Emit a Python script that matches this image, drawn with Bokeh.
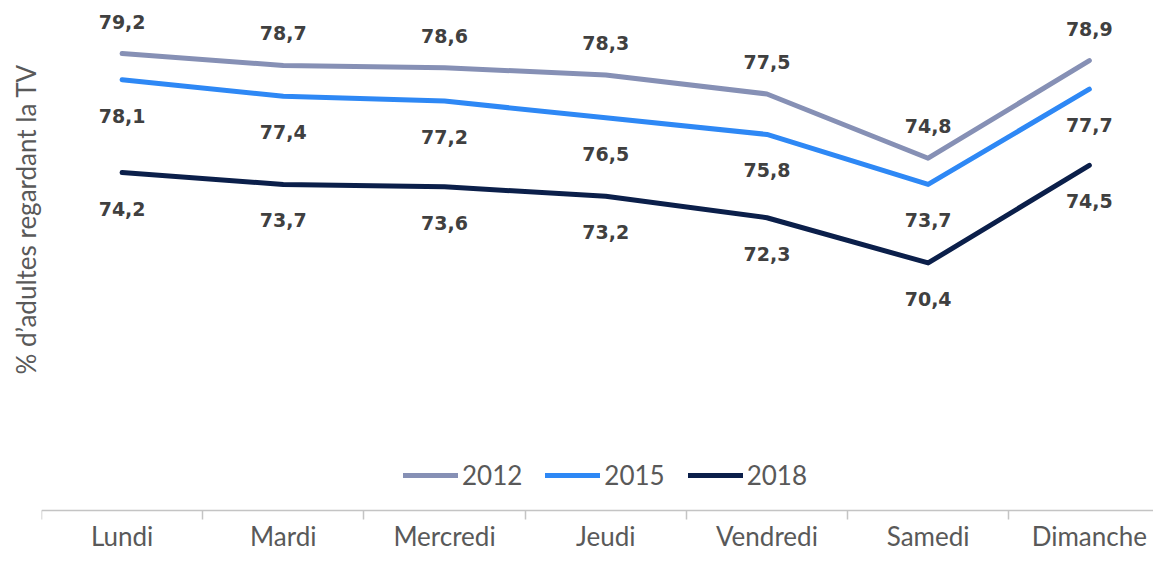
from bokeh.plotting import figure
from bokeh.models import (Range1d, LinearAxis, FixedTicker, Legend, LegendItem, Title)
from bokeh.core.properties import value
from bokeh.embed import file_html
from bokeh.resources import INLINE

days = ["Lundi", "Mardi", "Mercredi", "Jeudi", "Vendredi", "Samedi", "Dimanche"]
series_names = ["2012", "2015", "2018"]
v2012 = [79.2, 78.7, 78.6, 78.3, 77.5, 74.8, 78.9]
v2015 = [78.1, 77.4, 77.2, 76.5, 75.8, 73.7, 77.7]
v2018 = [74.2, 73.7, 73.6, 73.2, 72.3, 70.4, 74.5]
y_min = 60
y_title = "% d\u2019adultes regardant la TV"

colors = ["#8690B5", "#2E88F5", "#0B1F4A"]
label_offsets = [-32, 36, 36]

xc = [i + 0.5 for i in range(len(days))]
bounds = list(range(len(days) + 1))

p = figure(width=1153, height=551,
           x_range=Range1d(0, 6.898), y_range=Range1d(58.277, 81.427),
           output_backend="svg", toolbar_location=None, title=None,
           min_border_left=41, min_border_right=0, min_border_top=0,
           min_border_bottom=0, x_axis_type=None, y_axis_type=None)
p.outline_line_color = None
p.background_fill_color = "white"
p.border_fill_color = "white"
p.grid.visible = False

xaxis = LinearAxis(ticker=FixedTicker(ticks=xc, minor_ticks=bounds), fixed_location=y_min)
xaxis.major_label_overrides = {x: d for x, d in zip(xc, days)}
xaxis.axis_line_color = "#C4C4C4"
xaxis.axis_line_width = 1.5
xaxis.major_tick_line_color = None
xaxis.major_tick_in = 0
xaxis.major_tick_out = 9
xaxis.minor_tick_line_color = "#C4C4C4"
xaxis.minor_tick_line_width = 1.5
xaxis.minor_tick_in = 0
xaxis.minor_tick_out = 9
xaxis.major_label_standoff = 1
xaxis.major_label_text_font = "Lato"
xaxis.major_label_text_font_size = "26px"
xaxis.major_label_text_color = "#595959"
p.add_layout(xaxis, "below")

t = Title(text=y_title, align="left", offset=177, standoff=0,
          text_font="Lato", text_font_size="26px", text_font_style="normal",
          text_color="#595959")
p.add_layout(t, "left")

items = []
for name, vals, col, off in zip(series_names, [v2012, v2015, v2018], colors, label_offsets):
    r = p.line(xc, vals, line_color=col, line_width=5, line_join="round", line_cap="round")
    items.append(LegendItem(label=name, renderers=[r]))
    p.text(xc, vals, text=[f"{v:.1f}".replace(".", ",") for v in vals],
           text_font=value("DejaVu Sans"), text_font_style="bold",
           text_font_size="19px", text_color="#404040",
           text_align="center", text_baseline="middle", y_offset=off)

legend = Legend(items=items, orientation="horizontal", location=(362, 60),
                glyph_width=55, glyph_height=20, label_standoff=4, spacing=23,
                padding=0, margin=0, border_line_color=None,
                background_fill_alpha=0,
                label_text_font="Lato", label_text_font_size="26px",
                label_text_color="#595959", label_height=20)
p.add_layout(legend)

open("out.html", "w").write(file_html(p, INLINE))
